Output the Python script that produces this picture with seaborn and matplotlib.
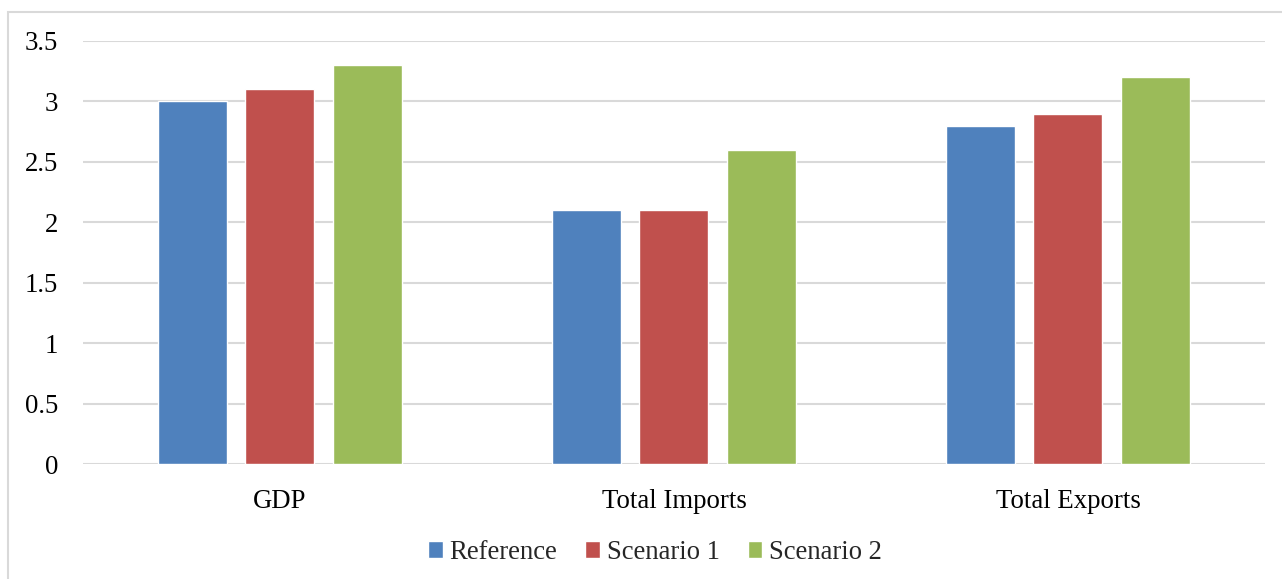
import matplotlib
matplotlib.use('Agg')
import matplotlib.pyplot as plt
import matplotlib.patches as mpatches
import pandas as pd
import seaborn as sns

# chart values
categories = ['GDP', 'Total Imports', 'Total Exports']
series = ['Reference', 'Scenario 1', 'Scenario 2']
reference = [3.0, 2.1, 2.8]
scenario_1 = [3.1, 2.1, 2.9]
scenario_2 = [3.3, 2.6, 3.2]
colors = ['#4F81BD', '#C0504D', '#9BBB59']

df = pd.DataFrame({
    'Category': categories * 3,
    'Series': [s for s in series for _ in categories],
    'Value': reference + scenario_1 + scenario_2,
})

sns.set_style('white')
plt.rcParams['font.family'] = ['Liberation Serif', 'DejaVu Serif']

fig = plt.figure(figsize=(12.82, 5.79), dpi=100)
ax = fig.add_axes([0.0647, 0.1986, 0.922, 0.7306])

sns.barplot(data=df, x='Category', y='Value', hue='Series', palette=colors,
            width=0.666, gap=0.21, ax=ax, saturation=1, legend=True)

ax.set_ylim(0, 3.5)
ax.set_xlim(-0.5, 2.5)
ax.set_yticks([0, 0.5, 1, 1.5, 2, 2.5, 3, 3.5])
ax.set_yticklabels(['0', '0.5', '1', '1.5', '2', '2.5', '3', '3.5'])
ax.yaxis.grid(True, color='#D9D9D9', linewidth=1.5)
ax.set_axisbelow(True)
for sp in ax.spines.values():
    sp.set_visible(False)
ax.tick_params(axis='both', length=0, labelsize=19.3, colors='black')
ax.tick_params(axis='y', pad=18)
ax.tick_params(axis='x', pad=18)
ax.set_xlabel('')
ax.set_ylabel('')

handles, labels = ax.get_legend_handles_labels()
ax.legend(handles, labels, loc='center', bbox_to_anchor=(0.484, -0.209),
          ncol=3, frameon=False, fontsize=19.2, handlelength=0.55,
          handleheight=0.55, handletextpad=0.25, columnspacing=1.05)

# outer chart border (only top and left visible in the reference)
fig.patches.append(mpatches.Rectangle((8 / 1282, -0.1), 1.2, 1 - 12 / 579 + 0.1,
                                      transform=fig.transFigure, fill=False,
                                      edgecolor='#D9D9D9', linewidth=1.5))

fig.savefig('out.png', dpi=100)
